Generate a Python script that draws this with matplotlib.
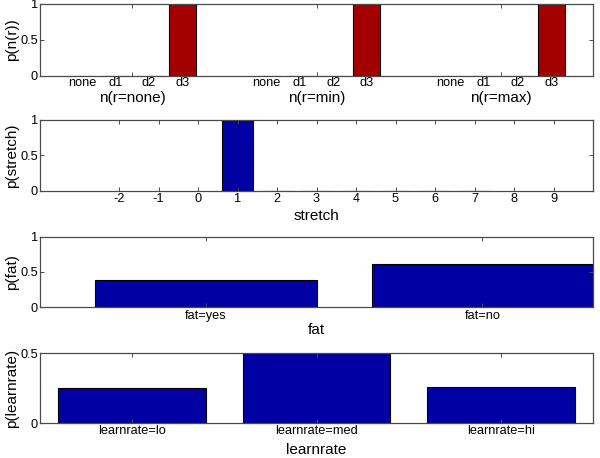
import matplotlib
matplotlib.use('Agg')
import matplotlib.pyplot as plt

plt.rcParams['font.family'] = ['Liberation Sans', 'DejaVu Sans']
plt.rcParams['axes.unicode_minus'] = False

# ---------------- data ----------------
n_groups = ['n(r=none)', 'n(r=min)', 'n(r=max)']
n_states = ['none', 'd1', 'd2', 'd3']
p_n_none = [0, 0, 0, 1]
p_n_min = [0, 0, 0, 1]
p_n_max = [0, 0, 0, 1]

stretch_x = [1, 2, 3, 4, 5, 6, 7]
p_stretch = [1, 0, 0, 0, 0, 0, 0]
stretch_ticks = [-2, -1, 0, 1, 2, 3, 4, 5, 6, 7, 8, 9]

fat_labels = ['fat=yes', 'fat=no']
p_fat = [0.385, 0.615]

learn_labels = ['learnrate=lo', 'learnrate=med', 'learnrate=hi']
p_learn = [0.25, 0.5, 0.255]

# ---------------- style ----------------
W, H = 600, 458
RED = '#A30000'
BLUE = '#0000A3'
SPINE = '#4a4a4a'
TICK_FS = 9.2
LAB_FS = 11

fig = plt.figure(figsize=(W / 100, H / 100), dpi=100)


def px_axes(left, top, right, bottom):
    return fig.add_axes([left / W, 1 - bottom / H, (right - left) / W, (bottom - top) / H])


def style(ax):
    for s in ax.spines.values():
        s.set_color(SPINE)
        s.set_linewidth(0.9)
    ax.tick_params(direction='in', top=True, right=True, length=3, width=0.7,
                   colors=SPINE, labelcolor='black', labelsize=TICK_FS, pad=1.5)


def ylabel(text, top, bottom):
    fig.text(12.5 / W, 1 - (top + bottom) / 2 / H, text, rotation=90,
             ha='center', va='center', fontsize=LAB_FS)


def xlabel(text, y):
    fig.text(316.5 / W, 1 - y / H, text, ha='center', va='center', fontsize=LAB_FS)


L, R = 40, 593

# ---- panel 1: p(n(r)) ----
ax1 = px_axes(L, 4, R, 75.7)
offsets = [-0.2727, -0.0909, 0.0909, 0.2727]
bw = 0.1455
for g, vals in enumerate([p_n_none, p_n_min, p_n_max]):
    xs = [g + 1 + o for o in offsets]
    ax1.bar(xs, vals, width=bw, color=RED, edgecolor='black', linewidth=0.8)
    for x, name in zip(xs, n_states):
        ax1.text(x, -7.3 / 71.7, name, transform=ax1.get_xaxis_transform(),
                 ha='center', va='center', fontsize=TICK_FS)
    ax1.text(g + 1, -22.6 / 71.7, n_groups[g], transform=ax1.get_xaxis_transform(),
             ha='center', va='center', fontsize=LAB_FS)
ax1.set_xlim(0.5, 3.5)
ax1.set_ylim(0, 1)
ax1.set_xticks([1, 2, 3])
ax1.set_xticklabels([])
ax1.set_yticks([0, 0.5, 1])
ax1.set_yticklabels(['0', '0.5', '1'])
style(ax1)
ylabel('p(n(r))', 4, 75.7)

# ---- panel 2: p(stretch) ----
ax2 = px_axes(L, 120, R, 190.7)
ax2.bar(stretch_x, p_stretch, width=0.8, color=BLUE, edgecolor='black', linewidth=0.8)
ax2.set_xlim(-4, 10)
ax2.set_ylim(0, 1)
ax2.set_xticks(stretch_ticks)
ax2.set_xticklabels([str(t) for t in stretch_ticks])
ax2.set_yticks([0, 0.5, 1])
ax2.set_yticklabels(['0', '0.5', '1'])
style(ax2)
ylabel('p(stretch)', 120, 190.7)
xlabel('stretch', 216.5)

# ---- panel 3: p(fat) ----
ax3 = px_axes(L, 237, R, 307)
ax3.bar([1, 2], p_fat, width=0.8, color=BLUE, edgecolor='black', linewidth=0.8)
ax3.set_xlim(0.4, 2.4)
ax3.set_ylim(0, 1)
ax3.set_xticks([1, 2])
ax3.set_xticklabels(fat_labels)
ax3.set_yticks([0, 0.5, 1])
ax3.set_yticklabels(['0', '0.5', '1'])
style(ax3)
ax3.tick_params(axis='x', pad=2.5)
ylabel('p(fat)', 237, 307)
xlabel('fat', 330)

# ---- panel 4: p(learnrate) ----
ax4 = px_axes(L, 353, R, 423)
ax4.bar([1, 2, 3], p_learn, width=0.8, color=BLUE, edgecolor='black', linewidth=0.8)
ax4.set_xlim(0.5, 3.5)
ax4.set_ylim(0, 0.5)
ax4.set_xticks([1, 2, 3])
ax4.set_xticklabels(learn_labels)
ax4.set_yticks([0, 0.5])
ax4.set_yticklabels(['0', '0.5'])
style(ax4)
ylabel('p(learnrate)', 353, 423)
xlabel('learnrate', 450)

fig.savefig('out.png', dpi=100)
